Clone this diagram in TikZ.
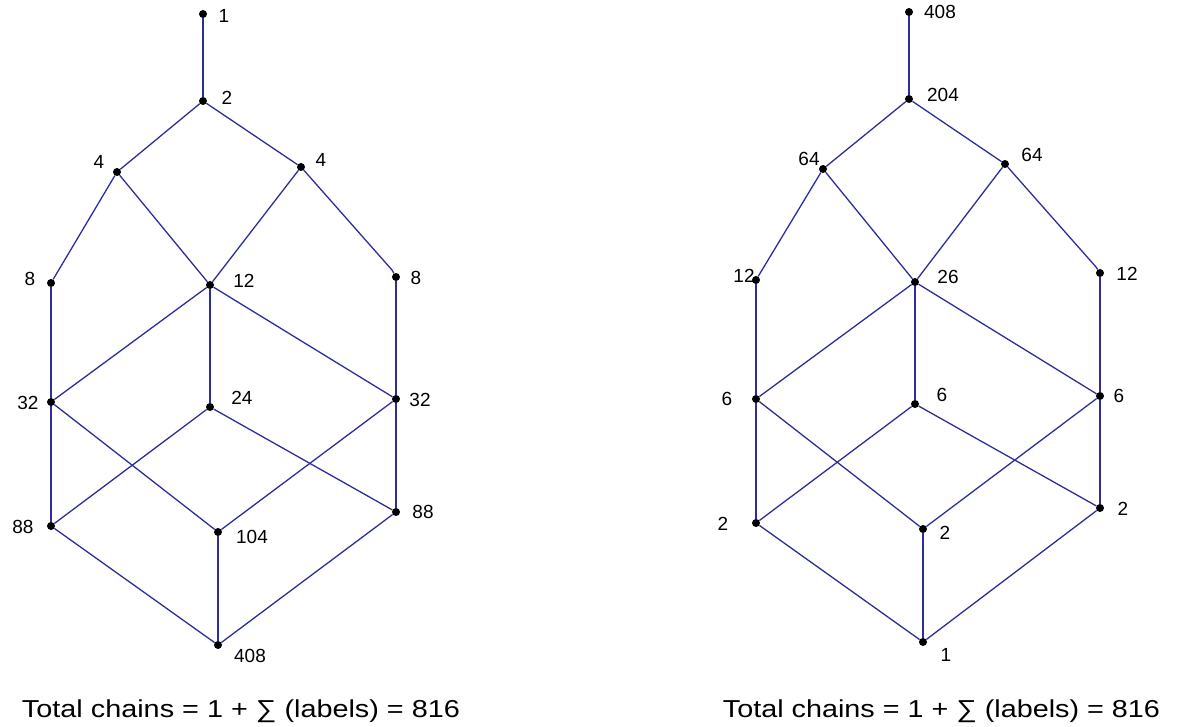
\documentclass[tikz,border=0pt]{standalone}
\usepackage{fontspec}
\setmainfont{Liberation Sans}
\usepackage{graphicx}
\definecolor{edgeblue}{RGB}{45,45,155}
\begin{document}
\begin{tikzpicture}[x=1pt,y=-1pt,
  dot/.style={circle,fill=black,inner sep=0pt,minimum size=8pt},
  lab/.style={inner sep=0pt,font=\fontsize{19}{19}\selectfont},
  edge/.style={draw=edgeblue,line width=1.3pt},
  caption/.style={inner sep=0pt,anchor=base,font=\fontsize{24.5}{25}\selectfont}]
\useasboundingbox (0,0) rectangle (1184,727);
% ---------- left lattice ----------
\node[dot] (a1)   at (203,14) {};
\node[dot] (a2)   at (203,101) {};
\node[dot] (a4l)  at (117,172) {};
\node[dot] (a4r)  at (301,167) {};
\node[dot] (a8l)  at (51,283) {};
\node[dot] (a12)  at (210,285) {};
\node[dot] (a8r)  at (396,277) {};
\node[dot] (a32l) at (51,402) {};
\node[dot] (a24)  at (210,407) {};
\node[dot] (a32r) at (396,399) {};
\node[dot] (a88l) at (51,526) {};
\node[dot] (a104) at (218,532) {};
\node[dot] (a88r) at (396,512) {};
\node[dot] (a408) at (218,645) {};
\coordinate (ka) at (392,270);
\draw[edge] (a1) -- (a2);
\draw[edge] (a2) -- (a4l);
\draw[edge] (a2) -- (a4r);
\draw[edge] (a4l) -- (a8l);
\draw[edge] (a4l) -- (a12);
\draw[edge] (a4r) -- (a12);
\draw[edge] (a4r) -- (ka) -- (a8r);
\draw[edge] (a8l) -- (a32l);
\draw[edge] (a12) -- (a32l);
\draw[edge] (a12) -- (a24);
\draw[edge] (a12) -- (a32r);
\draw[edge] (a8r) -- (a32r);
\draw[edge] (a32l) -- (a88l);
\draw[edge] (a32l) -- (a104);
\draw[edge] (a24) -- (a88l);
\draw[edge] (a24) -- (a88r);
\draw[edge] (a32r) -- (a104);
\draw[edge] (a32r) -- (a88r);
\draw[edge] (a88l) -- (a408);
\draw[edge] (a104) -- (a408);
\draw[edge] (a88r) -- (a408);
\node[lab] (la1)   at (224,16) {1};
\node[lab] (la2)   at (227,98) {2};
\node[lab] (la4l)  at (99,162) {4};
\node[lab] (la4r)  at (321,160) {4};
\node[lab] (la8l)  at (30,279) {8};
\node[lab] (la12)  at (244,281) {12};
\node[lab] (la8r)  at (416,278) {8};
\node[lab] (la32l) at (28,403) {32};
\node[lab] (la24)  at (242,398) {24};
\node[lab] (la32r) at (420,400) {32};
\node[lab] (la88l) at (23,527) {88};
\node[lab] (la104) at (252,537) {104};
\node[lab] (la88r) at (423,512) {88};
\node[lab] (la408) at (250,656) {408};
% ---------- right lattice ----------
\node[dot] (b408) at (909,12) {};
\node[dot] (b204) at (909,99) {};
\node[dot] (b64l) at (823,169) {};
\node[dot] (b64r) at (1005,164) {};
\node[dot] (b12l) at (756,280) {};
\node[dot] (b26)  at (915,282) {};
\node[dot] (b12r) at (1100,273) {};
\node[dot] (b6l)  at (756,399) {};
\node[dot] (b6m)  at (915,404) {};
\node[dot] (b6r)  at (1100,396) {};
\node[dot] (b2l)  at (756,523) {};
\node[dot] (b2m)  at (923,529) {};
\node[dot] (b2r)  at (1100,508) {};
\node[dot] (b1)   at (923,642) {};
\coordinate (kb) at (1096,267);
\draw[edge] (b408) -- (b204);
\draw[edge] (b204) -- (b64l);
\draw[edge] (b204) -- (b64r);
\draw[edge] (b64l) -- (b12l);
\draw[edge] (b64l) -- (b26);
\draw[edge] (b64r) -- (b26);
\draw[edge] (b64r) -- (kb) -- (b12r);
\draw[edge] (b12l) -- (b6l);
\draw[edge] (b26) -- (b6l);
\draw[edge] (b26) -- (b6m);
\draw[edge] (b26) -- (b6r);
\draw[edge] (b12r) -- (b6r);
\draw[edge] (b6l) -- (b2l);
\draw[edge] (b6l) -- (b2m);
\draw[edge] (b6m) -- (b2l);
\draw[edge] (b6m) -- (b2r);
\draw[edge] (b6r) -- (b2m);
\draw[edge] (b6r) -- (b2r);
\draw[edge] (b2l) -- (b1);
\draw[edge] (b2m) -- (b1);
\draw[edge] (b2r) -- (b1);
\node[lab] (lb408) at (940,12) {408};
\node[lab] (lb204) at (943,95) {204};
\node[lab] (lb64l) at (809,159) {64};
\node[lab] (lb64r) at (1032,155) {64};
\node[lab] (lb12l) at (744,276) {12};
\node[lab] (lb26)  at (948,277) {26};
\node[lab] (lb12r) at (1127,274) {12};
\node[lab] (lb6l)  at (727,399) {6};
\node[lab] (lb6m)  at (942,395) {6};
\node[lab] (lb6r)  at (1119,396) {6};
\node[lab] (lb2l)  at (723,524) {2};
\node[lab] (lb2m)  at (945,533) {2};
\node[lab] (lb2r)  at (1123,509) {2};
\node[lab] (lb1)   at (946,655) {1};
% ---------- captions ----------
\node[caption] (capl) at (241,717) {\resizebox{438pt}{\height}{Total chains = 1 + ∑ (labels) = 816}};
\node[caption] (capr) at (941.5,717) {\resizebox{437pt}{\height}{Total chains = 1 + ∑ (labels) = 816}};
\end{tikzpicture}
\end{document}
